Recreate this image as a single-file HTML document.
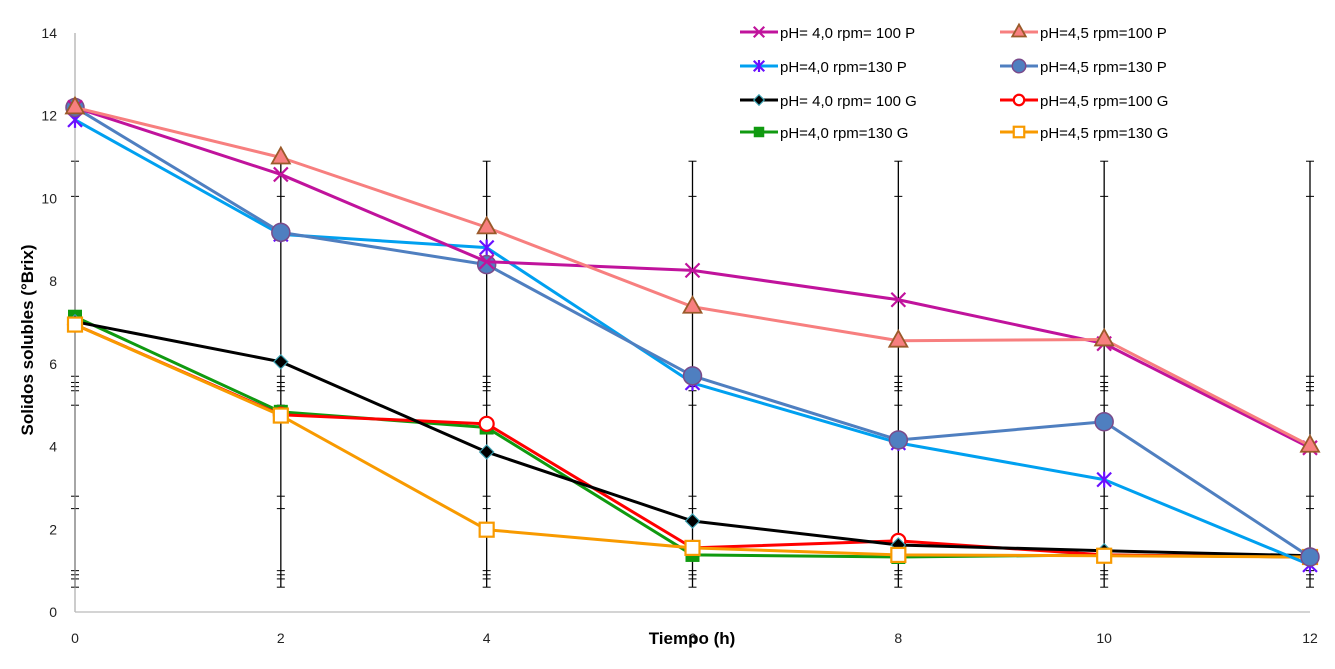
<!DOCTYPE html>
<html><head><meta charset="utf-8"><style>
html,body{margin:0;padding:0;background:#fff;}
svg{display:block;font-family:"Liberation Sans",Arial,sans-serif;}
</style></head><body>
<svg id="chart" width="1335" height="669" viewBox="0 0 1335 669">
<g id="grid"></g>
<g id="axes"></g>
<g id="series"></g>
<g id="legend"></g>
<text x="0" y="0" transform="translate(33,340) rotate(-90)" text-anchor="middle" font-size="17" font-weight="bold" fill="#000">Solidos solubles (°Brix)</text>
<text x="692" y="644" text-anchor="middle" font-size="17" font-weight="bold" fill="#000">Tiempo (h)</text>
</svg>
<script>
const times=[0,2,4,6,8,10,12];
const yTicks=[0,2,4,6,8,10,12,14];
const seriesNames=["pH= 4,0 rpm= 100 P","pH=4,5 rpm=100 P","pH=4,0 rpm=130 P","pH=4,5 rpm=130 P","pH= 4,0 rpm= 100 G","pH=4,5 rpm=100 G","pH=4,0 rpm=130 G","pH=4,5 rpm=130 G"];
const s1=[12.2,10.58,8.47,8.26,7.55,6.49,3.97];
const s2=[12.2,10.99,9.3,7.38,6.56,6.59,4.02];
const s3=[11.9,9.13,8.81,5.54,4.09,3.2,1.14];
const s4=[12.2,9.18,8.4,5.71,4.16,4.6,1.33];
const s5=[7.02,6.05,3.87,2.2,1.62,1.48,1.36];
const s6=[6.95,4.77,4.55,1.55,1.72,1.38,1.33];
const s7=[7.14,4.84,4.46,1.38,1.33,1.38,1.33];
const s8=[6.95,4.75,1.99,1.55,1.38,1.36,1.33];
const errTop=10.9, errBottom=0.6;
const errTicks=[10.9,10.05,5.7,5.55,5.45,5.35,5.0,2.8,2.5,1.0,0.9,0.8,0.6];

const NS="http://www.w3.org/2000/svg";
const X0=75,X1=1310,Y0=612,Y1=33;
const xs=v=>X0+(v-0)/(12-0)*(X1-X0);
const ys=v=>Y0-(v-0)/(14-0)*(Y0-Y1);
function mk(tag,attrs,parent){const e=document.createElementNS(NS,tag);for(const k in attrs)e.setAttribute(k,attrs[k]);parent.appendChild(e);return e;}

const grid=document.getElementById('grid');
times.forEach(t=>{
  const l=mk('line',{x1:xs(t),x2:xs(t),y1:ys(errTop),y2:ys(errBottom),stroke:'#000','stroke-width':1.3},grid);
  
  
  errTicks.forEach(v=>{mk('line',{x1:xs(t)-4,x2:xs(t)+4,y1:ys(v),y2:ys(v),stroke:'#000','stroke-width':1},grid);});
});

const axes=document.getElementById('axes');
mk('line',{x1:X0,x2:X0,y1:Y1,y2:Y0,stroke:'#999','stroke-width':1},axes);
mk('line',{x1:X0,x2:X1,y1:Y0,y2:Y0,stroke:'#bbb','stroke-width':1.3},axes);
yTicks.forEach(v=>{
  const t=mk('text',{x:57,y:ys(v)+5,'text-anchor':'end','font-size':14,fill:'#222'},axes);
  t.textContent=v;
  
  
});
times.forEach(v=>{
  const t=mk('text',{x:xs(v),y:643,'text-anchor':'middle','font-size':14,fill:'#222'},axes);
  t.textContent=v;
  
  
});

const styles=[
 {c:'#c0139c',m:'x',mc:'#c0139c'},
 {c:'#f77f7f',m:'tri',mc:'#f77f7f',ms:'#9a5a2a'},
 {c:'#00a0f0',m:'ast',mc:'#6a10ff'},
 {c:'#4f7fc0',m:'circ',mc:'#4f7fc0',ms:'#7a4a8a'},
 {c:'#000',m:'dia',mc:'#000',ms:'#3aa0b0'},
 {c:'#f00',m:'ocirc',mc:'#fff',ms:'#f00'},
 {c:'#109a10',m:'sq',mc:'#109a10'},
 {c:'#f89a00',m:'osq',mc:'#fff',ms:'#f89a00'}
];
const data=[s1,s2,s3,s4,s5,s6,s7,s8];
function marker(g,st,x,y,sc){
  sc=sc||1;
  switch(st.m){
    case 'x':mk('path',{d:`M${x-7*sc},${y-7*sc}L${x+7*sc},${y+7*sc}M${x-7*sc},${y+7*sc}L${x+7*sc},${y-7*sc}`,stroke:st.mc,'stroke-width':2.2,fill:'none'},g);break;
    case 'ast':mk('path',{d:`M${x-7*sc},${y-7*sc}L${x+7*sc},${y+7*sc}M${x-7*sc},${y+7*sc}L${x+7*sc},${y-7*sc}M${x},${y-8*sc}L${x},${y+8*sc}`,stroke:st.mc,'stroke-width':2.2,fill:'none'},g);break;
    case 'tri':mk('path',{d:`M${x},${y-10*sc}L${x+9*sc},${y+6*sc}L${x-9*sc},${y+6*sc}Z`,fill:st.mc,stroke:st.ms,'stroke-width':1.8},g);break;
    case 'circ':mk('circle',{cx:x,cy:y,r:9*sc,fill:st.mc,stroke:st.ms,'stroke-width':1.5},g);break;
    case 'ocirc':mk('circle',{cx:x,cy:y,r:7*sc,fill:'#fff',stroke:st.ms,'stroke-width':2.2},g);break;
    case 'dia':mk('path',{d:`M${x},${y-7*sc}L${x+7*sc},${y}L${x},${y+7*sc}L${x-7*sc},${y}Z`,fill:st.mc,stroke:st.ms,'stroke-width':1.2},g);break;
    case 'sq':mk('rect',{x:x-7*sc,y:y-7*sc,width:14*sc,height:14*sc,fill:st.mc},g);break;
    case 'osq':mk('rect',{x:x-7*sc,y:y-7*sc,width:14*sc,height:14*sc,fill:'#fff',stroke:st.ms,'stroke-width':2.2},g);break;
  }
}
const sg=document.getElementById('series');
const order=[6,5,4,7,2,3,0,1];
order.forEach(i=>{
  const st=styles[i],vals=data[i];
  const g=mk('g',{},sg);
  
  
  const p=mk('polyline',{points:vals.map((v,k)=>xs(times[k])+','+ys(v)).join(' '),fill:'none',stroke:st.c,'stroke-width':3,'stroke-linejoin':'round'},g);
  
  
  vals.forEach((v,k)=>marker(g,st,xs(times[k]),ys(v)));
});

const lg=document.getElementById('legend');
seriesNames.forEach((n,i)=>{
  const col=i%2,row=Math.floor(i/2);
  const x=col?1000:740,y=[32,66,100,132][row];
  const g=mk('g',{},lg);
  
  
  mk('line',{x1:x,x2:x+38,y1:y,y2:y,stroke:styles[i].c,'stroke-width':3},g);
  marker(g,styles[i],x+19,y,0.75);
  const t=mk('text',{x:x+40,y:y+6,'font-size':15,fill:'#000'},g);
  t.textContent=n;
});
</script>
</body></html>
